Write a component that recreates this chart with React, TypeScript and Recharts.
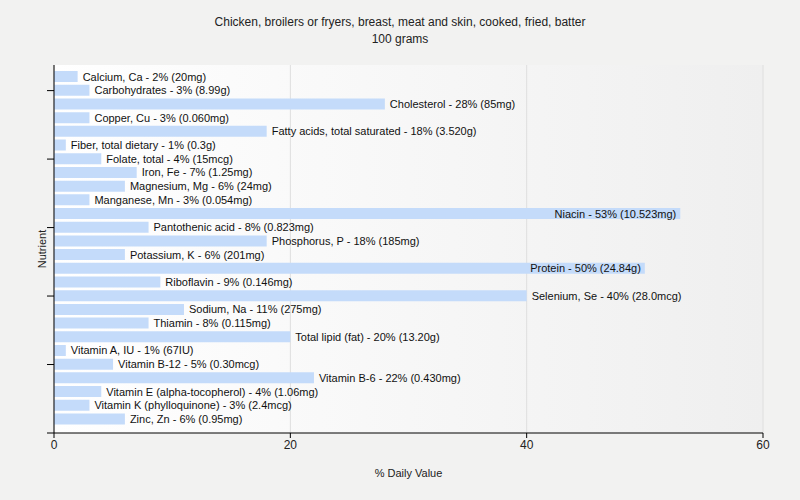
import {
  BarChart,
  Bar,
  XAxis,
  YAxis,
  CartesianGrid,
  LabelList,
} from "recharts";

const nutrients = [
  "Calcium, Ca",
  "Carbohydrates",
  "Cholesterol",
  "Copper, Cu",
  "Fatty acids, total saturated",
  "Fiber, total dietary",
  "Folate, total",
  "Iron, Fe",
  "Magnesium, Mg",
  "Manganese, Mn",
  "Niacin",
  "Pantothenic acid",
  "Phosphorus, P",
  "Potassium, K",
  "Protein",
  "Riboflavin",
  "Selenium, Se",
  "Sodium, Na",
  "Thiamin",
  "Total lipid (fat)",
  "Vitamin A, IU",
  "Vitamin B-12",
  "Vitamin B-6",
  "Vitamin E (alpha-tocopherol)",
  "Vitamin K (phylloquinone)",
  "Zinc, Zn",
];

const dailyValue = [
  2, 3, 28, 3, 18, 1, 4, 7, 6, 3, 53, 8, 18, 6, 50, 9, 40, 11, 8, 20, 1, 5, 22,
  4, 3, 6,
];

const amounts = [
  "20mg",
  "8.99g",
  "85mg",
  "0.060mg",
  "3.520g",
  "0.3g",
  "15mcg",
  "1.25mg",
  "24mg",
  "0.054mg",
  "10.523mg",
  "0.823mg",
  "185mg",
  "201mg",
  "24.84g",
  "0.146mg",
  "28.0mcg",
  "275mg",
  "0.115mg",
  "13.20g",
  "67IU",
  "0.30mcg",
  "0.430mg",
  "1.06mg",
  "2.4mcg",
  "0.95mg",
];

const xTicks = [0, 20, 40, 60];
const yTicks = [2, 7, 12, 17, 22, 27];

const data = nutrients.map((name, i) => ({
  pos: i + 1,
  value: dailyValue[i],
  label: `${name} - ${dailyValue[i]}% (${amounts[i]})`,
}));

const FONT = '"Liberation Sans", Arial, sans-serif';

function BarLabel(props: any) {
  const { x, y, width, height, value, index } = props;
  const inside = dailyValue[index] >= 45;
  const end = x + width;
  return (
    <text
      x={inside ? end - 4 : end + 5}
      y={y + height / 2}
      textAnchor={inside ? "end" : "start"}
      dominantBaseline="central"
      fontSize={11}
      fontFamily={FONT}
      fill="#111"
    >
      {value}
    </text>
  );
}

export default function App() {
  return (
    <div
      style={{
        position: "absolute",
        left: 0,
        top: 0,
        width: 800,
        height: 500,
        background: "#f2f2f1",
        fontFamily: FONT,
      }}
    >
      <div
        style={{
          position: "absolute",
          top: 14,
          left: 0,
          width: 800,
          textAlign: "center",
          fontSize: 12,
          lineHeight: "17px",
          color: "#222",
        }}
      >
        Chicken, broilers or fryers, breast, meat and skin, cooked, fried, batter
        <br />
        100 grams
      </div>
      <BarChart
        width={800}
        height={500}
        data={data}
        layout="vertical"
        margin={{ top: 65, right: 37, bottom: 23, left: 0 }}
        style={{ position: "absolute", left: 0, top: 0 }}
      >
        <defs>
          <linearGradient id="plotBg" x1="0" y1="0" x2="1" y2="0">
            <stop offset="0%" stopColor="#ffffff" />
            <stop offset="100%" stopColor="#efefef" />
          </linearGradient>
        </defs>
        <CartesianGrid
          horizontal={false}
          stroke="#dedede"
          fill="url(#plotBg)"
          fillOpacity={1}
        />
        <XAxis
          type="number"
          dataKey="value"
          domain={[0, 60]}
          ticks={xTicks}
          height={44}
          tickSize={5}
          tickLine={{ stroke: "#000" }}
          axisLine={{ stroke: "#000" }}
          tick={{ fill: "#222", fontSize: 12, fontFamily: FONT }}
          label={{
            value: "% Daily Value",
            position: "insideBottom",
            offset: 0,
            fontSize: 11,
            fontFamily: FONT,
            fill: "#222",
          }}
        />
        <YAxis
          type="number"
          dataKey="pos"
          domain={[0.13, 27]}
          ticks={yTicks}
          allowDataOverflow
          width={54}
          tickSize={7}
          tickLine={{ stroke: "#000" }}
          axisLine={{ stroke: "#000" }}
          tickFormatter={() => ""}
          label={{
            content: () => (
              <text
                x={42}
                y={249}
                transform="rotate(-90 42 249)"
                textAnchor="middle"
                dominantBaseline="central"
                fontSize={11}
                fontFamily={FONT}
                fill="#222"
              >
                Nutrient
              </text>
            ),
          }}
        />
        <Bar
          dataKey="value"
          fill="#c4dbfa"
          barSize={11}
          isAnimationActive={false}
        >
          <LabelList dataKey="label" content={BarLabel} />
        </Bar>
      </BarChart>
    </div>
  );
}
